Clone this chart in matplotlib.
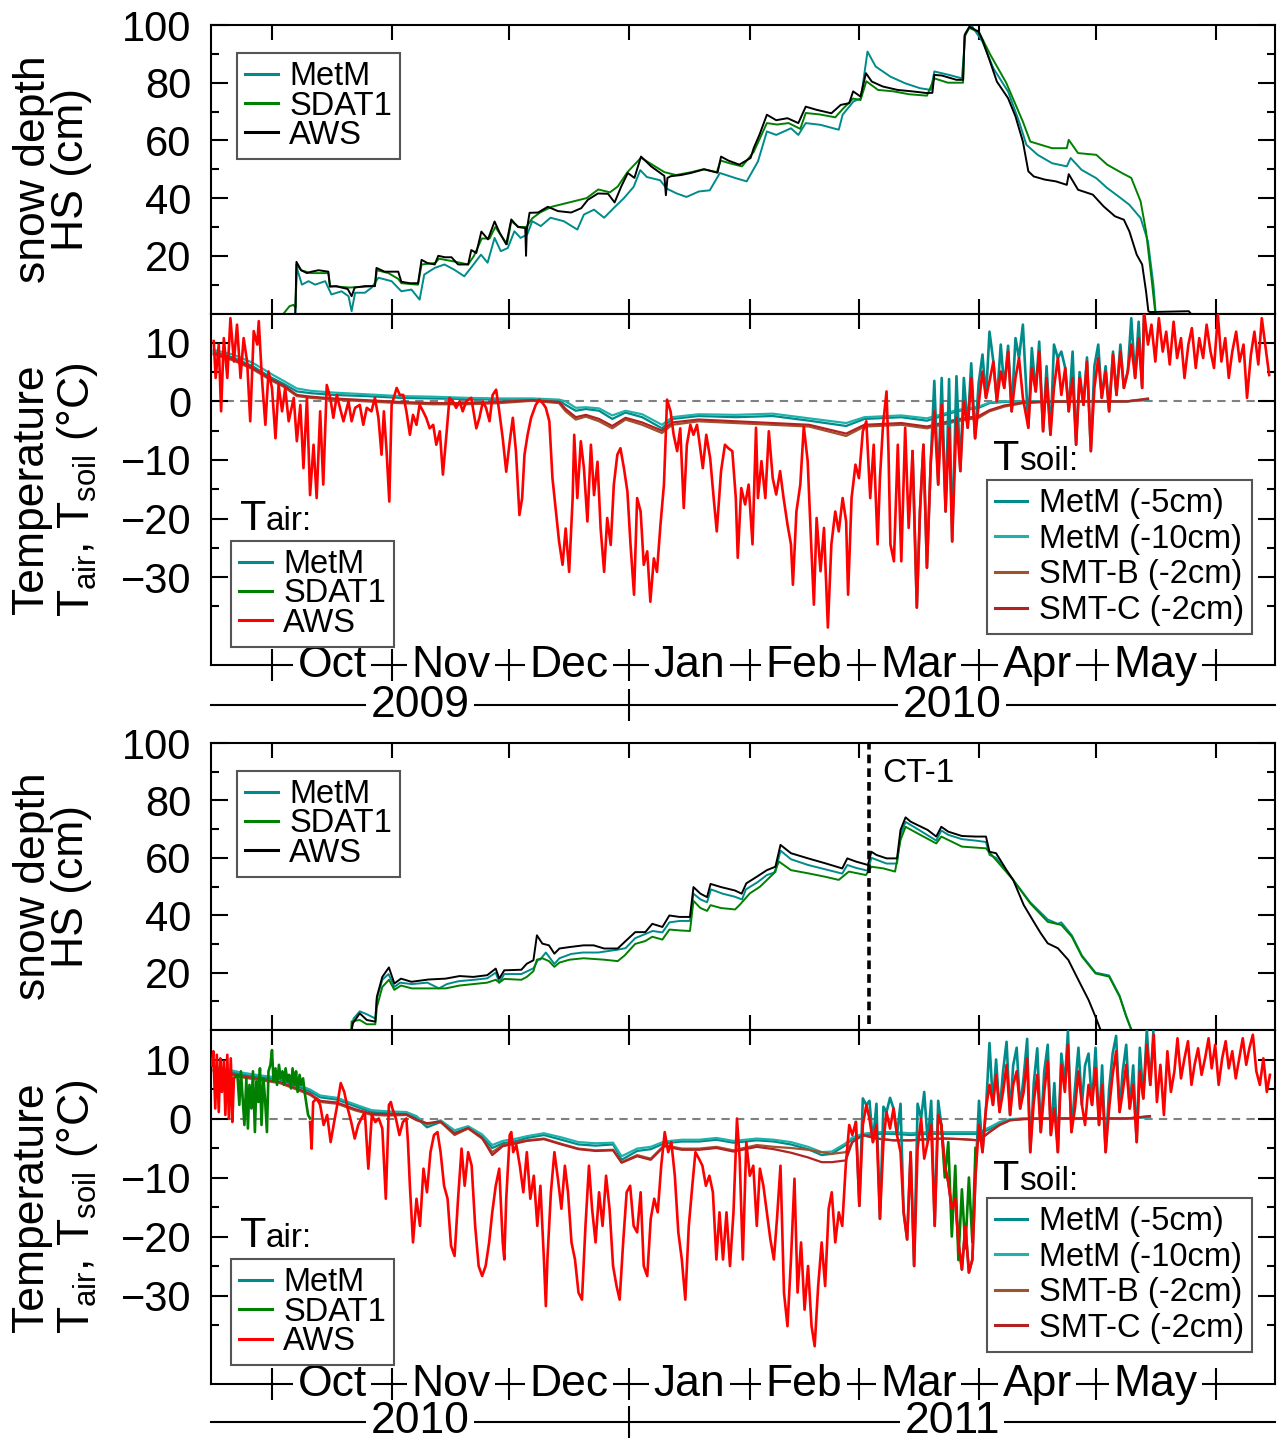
import matplotlib
matplotlib.use('Agg')
import matplotlib.pyplot as plt
from matplotlib import font_manager
from matplotlib.lines import Line2D

plt.rcParams['font.family'] = ['Liberation Sans', 'DejaVu Sans']
plt.rcParams['mathtext.fontset'] = 'custom'
plt.rcParams['mathtext.rm'] = 'Liberation Sans'
plt.rcParams['mathtext.it'] = 'Liberation Sans'
plt.rcParams['axes.linewidth'] = 1.5

# time axis: days counted from 1 October of the first year of the season
month_starts = [0, 31, 61, 92, 123, 151, 182, 212, 243]
month_names = ['Oct', 'Nov', 'Dec', 'Jan', 'Feb', 'Mar', 'Apr', 'May']
new_year = 92
x_range = (-15.7, 258.2)
years1 = ['2009', '2010']
years2 = ['2010', '2011']
ct1_day = 153.6

# ---------------- snow depth HS (cm), season 2009/10 ----------------
hs1_aws_day = [6.0, 6.3, 7.5, 9.0, 10.2, 12.0, 14.5, 14.9, 16.5, 17.9, 19.5, 20.5, 21.3, 24.0, 26.5, 26.9, 29.0, 32.5, 33.3, 35.5,
               37.6, 38.5, 40.0, 41.9, 42.8, 44.5, 46.2, 47.9, 50.5, 51.3, 52.6, 53.9, 55.6, 57.3, 58.6, 60.3, 61.6, 63.3, 65.2, 65.4,
               65.6, 66.3, 68.5, 71.0, 73.6, 77.0, 79.6, 81.3, 83.9, 86.5, 88.2, 89.9, 91.6, 93.3, 95.0, 97.6, 101.0, 101.4, 101.8, 102.7,
               105.3, 107.8, 111.3, 114.7, 115.6, 117.5, 120.3, 123.2, 124.0, 125.5, 127.4, 129.8, 132.7, 135.5, 137.4, 140.2, 144.0, 146.4, 148.6, 149.6,
               151.5, 152.9, 154.4, 157.2, 161.0, 164.8, 168.6, 170.0, 170.5, 172.4, 176.2, 177.9, 178.3, 179.5, 181.9, 182.9, 184.7, 186.6, 189.5, 191.4,
               193.3, 194.7, 196.1, 199.0, 201.8, 204.6, 205.1, 207.5, 211.3, 214.1, 217.0, 219.3, 220.7, 222.6, 224.0, 225.0, 225.6, 226.0, 236.0, 236.5]
hs1_aws = [0, 17.9, 15, 14, 14.5, 15, 14.5, 9.3, 9.5, 9, 8.5, 6, 9, 9.5, 9.5, 15.8, 14.5, 14.5, 11, 10.5,
           10.5, 18.6, 17.5, 17, 20, 19.5, 19.5, 17, 17, 22, 21, 28.4, 25.7, 31.9, 28, 24, 32.6, 30, 29.6, 20,
           29, 34.9, 35, 37, 35.5, 35, 36.5, 39.4, 41.6, 41.5, 38.5, 44, 48.7, 47, 54.4, 51, 47.7, 41, 47, 47.6,
           48, 48.7, 50, 48.8, 54.4, 53, 51.6, 53.9, 57.3, 62, 68.9, 67, 67.7, 66, 71.7, 70.6, 69.4, 72.3, 72.9, 77,
           75.2, 83.3, 80.4, 78.7, 77.5, 77, 76.4, 76.5, 82.7, 82.5, 81, 81, 96.5, 99.4, 97.7, 94.8, 87.9, 80.4, 74.6, 68.3,
           59.6, 49.3, 47.5, 46.4, 45.8, 44.6, 48.3, 42.9, 41.2, 37.1, 33.7, 32.5, 28.5, 20.4, 17, 7.7, 0.8, 0.5, 0.8, 0]

hs1_metm_day = [6.0, 6.4, 7.7, 9.4, 11.1, 13.7, 15.3, 17.9, 19.7, 20.5, 21.4, 23.9, 25.6, 27.4, 30.8, 33.3, 35.9, 38.0, 39.2, 41.9,
                44.4, 46.9, 49.5, 51.2, 53.8, 55.5, 57.3, 58.9, 60.7, 62.4, 64.0, 65.7, 67.0, 69.2, 71.7, 75.1, 78.6, 80.3, 82.9, 85.5,
                88.0, 90.6, 93.1, 94.8, 96.5, 99.9, 101.6, 104.2, 106.7, 109.9, 112.7, 115.3, 119.4, 122.2, 125.1, 127.4, 129.8, 133.6, 135.5, 137.4,
                141.2, 145.9, 146.9, 149.7, 151.6, 153.3, 155.4, 159.2, 163.0, 166.8, 169.6, 170.5, 174.3, 177.6, 178.5, 180.0, 182.9, 185.7, 189.5, 192.3,
                194.2, 197.1, 200.8, 204.6, 205.6, 208.4, 212.2, 215.0, 217.9, 220.7, 223.6, 225.5, 226.9, 227.5]
hs1_metm = [0, 15.8, 10, 11.2, 10, 11.2, 6.6, 7.7, 6, 0.8, 7.2, 7.2, 8.9, 12.4, 11.2, 7.7, 8.3, 4.8, 13.5, 15.8,
            17, 15.2, 12.9, 15.8, 20.4, 17.6, 26.2, 21.6, 22.7, 28.5, 26.2, 27.4, 32, 30.3, 33.2, 32, 29.1, 34.3, 36, 33.2,
            36.6, 40, 43.9, 49.7, 47.3, 46.2, 43.3, 41.6, 40.4, 42.3, 42.7, 48.7, 46.9, 45.8, 52.7, 63.1, 61.9, 64.2, 61.9, 66,
            65.4, 63.7, 68.9, 73.5, 74.6, 90.8, 85.6, 82.1, 79.8, 78.1, 77.5, 83.9, 82.7, 81.5, 97.1, 100, 94.2, 85, 76.9, 66.6,
            58.5, 55, 52.1, 51, 53.9, 49.8, 46.9, 43.5, 40.6, 37.7, 33.1, 25, 10, 0]

hs1_sdat_day = [3.0, 4.5, 5.5, 6.1, 6.3, 7.5, 10.0, 14.5, 15.0, 20.0, 26.5, 27.0, 30.0, 32.5, 33.3, 37.6, 38.5, 42.0, 43.0, 47.0,
                50.5, 52.0, 54.0, 56.0, 57.5, 59.0, 60.5, 61.6, 63.5, 65.5, 67.0, 69.0, 72.0, 75.0, 78.0, 81.0, 84.0, 87.0, 89.0, 91.5,
                95.0, 98.0, 101.0, 104.0, 108.0, 111.0, 114.5, 115.5, 118.0, 121.0, 124.0, 127.4, 130.0, 133.0, 136.0, 137.4, 141.0, 145.0, 147.0, 149.6,
                151.5, 153.0, 156.0, 160.0, 164.0, 168.6, 170.5, 174.0, 177.9, 178.3, 179.5, 182.0, 185.0, 189.0, 193.3, 195.2, 200.8, 204.6, 205.1, 207.5,
                212.2, 215.0, 218.8, 221.2, 223.6, 225.0, 226.4, 227.4]
hs1_sdat = [0, 2.5, 3, 2, 17, 15, 14, 14, 9.5, 9, 9.5, 15, 14, 12, 10.5, 10, 17, 17.5, 19, 18,
            17, 20, 26, 26, 30, 27, 24, 32, 30, 30, 33, 35, 37, 38, 39, 40, 43, 42, 44, 49,
            54, 51.5, 49, 48, 49, 50, 49, 53, 52, 51, 56, 66, 65.5, 66, 64, 69.5, 69, 68, 71, 74.5,
            74, 80.5, 77.5, 77, 76, 75.5, 81.5, 80, 80, 96, 99, 97.5, 89.5, 80, 66.5, 59.6, 57.3, 57.3, 60.2, 55.6,
            55, 51.6, 48.7, 47, 38.9, 28.5, 12.3, 0]

# ---------------- snow depth HS (cm), season 2010/11 ----------------
hs2_aws_day = [20.5, 20.8, 22.6, 24.4, 26.6, 27.0, 28.4, 30.1, 31.5, 33.2, 35.9, 40.3, 44.7, 48.3, 51.8, 55.4, 57.6, 58.5, 59.8, 64.2,
               65.6, 67.3, 68.2, 69.6, 71.3, 72.7, 74.0, 76.6, 80.2, 82.8, 85.5, 89.0, 90.8, 93.5, 96.1, 97.9, 100.5, 102.3, 104.9, 107.6,
               108.5, 110.3, 112.0, 112.9, 115.6, 119.2, 120.9, 122.1, 124.8, 127.4, 129.6, 130.9, 133.6, 138.0, 142.4, 146.8, 148.1, 150.3, 153.4, 154.3,
               155.6, 158.2, 160.9, 161.8, 163.1, 164.4, 166.2, 168.8, 171.0, 172.3, 174.1, 177.6, 181.1, 183.8, 184.7, 186.4, 189.1, 190.8, 193.5, 196.1,
               197.9, 199.7, 202.3, 205.0, 207.6, 210.2, 212.0, 213.3]
hs2_aws = [0, 2.3, 5.8, 3.5, 2.9, 11.6, 18.5, 21.8, 16.2, 17.9, 16.8, 17.6, 17.9, 18.8, 18.5, 19.1, 21.4, 17.9, 20.8, 21,
           23.1, 24.3, 33, 30.1, 29.5, 26.6, 28.4, 28.9, 29.5, 29.5, 28.4, 28.4, 30.7, 34.1, 34.1, 37, 35.9, 39.9, 39.4, 39.4,
           49.8, 47.5, 46.3, 50.9, 49.8, 48.6, 47.5, 51.1, 53.4, 55.7, 56.9, 64.5, 61.6, 59.8, 58.1, 56.3, 59.8, 58.7, 57.5, 62.1,
           61, 59.8, 59.8, 69.7, 74.1, 72.6, 71.4, 69.7, 67.4, 70.8, 69.1, 67.6, 67.4, 67.4, 62.1, 61.6, 55.7, 52.3, 43.6, 37.7,
           33.7, 30.2, 28.5, 24.4, 17.4, 10.5, 4.6, 0]

hs2_metm_day = [20.5, 21.0, 22.6, 24.4, 26.6, 27.0, 28.4, 30.0, 31.5, 33.0, 36.0, 40.0, 43.0, 45.0, 48.0, 52.0, 55.4, 57.6, 58.5, 59.8,
                64.2, 67.3, 68.5, 69.0, 70.5, 72.7, 74.0, 77.0, 80.0, 84.0, 89.0, 91.0, 93.5, 98.0, 100.5, 102.3, 105.0, 107.6, 108.5, 110.3,
                112.0, 113.0, 116.0, 119.0, 121.0, 122.0, 125.0, 127.4, 129.6, 130.9, 133.6, 138.0, 142.4, 146.8, 148.1, 150.3, 153.4, 154.3, 158.2, 160.9,
                161.8, 163.1, 166.2, 171.0, 172.3, 174.1, 177.6, 181.1, 183.8, 184.7, 186.4, 190.8, 195.2, 199.7, 202.3, 203.2, 205.9, 208.5, 212.0, 215.5,
                218.2, 219.9, 221.3]
hs2_metm = [0, 4, 6.5, 5.5, 4, 11, 17.5, 19.5, 15, 16.5, 16, 16.5, 14.5, 16, 17, 17.5, 18, 20, 16.5, 19.5,
            19.5, 21.5, 24.5, 24.5, 27, 23, 25, 26.5, 27, 27, 28, 28.5, 32, 34.5, 34, 37.5, 38, 38, 47.5, 45.5,
            44.5, 49, 47.5, 46.5, 45.5, 49, 51.5, 54, 55, 62.5, 59.5, 57.5, 56, 54.5, 57.5, 56.5, 55.5, 60, 58, 58,
            68, 72.5, 70, 66, 69.5, 68, 66.5, 66, 65.5, 61, 60, 52.3, 44.5, 38.5, 37, 37.5, 33, 26, 20, 19,
            12, 5, 0]

hs2_sdat_day = [20.4, 20.5, 22.6, 24.4, 26.6, 27.0, 28.4, 30.1, 31.5, 33.2, 36.0, 40.3, 44.7, 48.3, 51.8, 55.4, 57.6, 58.5, 59.8, 64.2,
                65.6, 67.3, 68.2, 69.6, 71.3, 72.7, 74.0, 76.6, 80.2, 85.5, 89.0, 90.8, 93.5, 96.1, 97.9, 100.5, 102.3, 104.9, 107.6, 108.5,
                110.3, 112.0, 112.9, 115.6, 119.2, 120.4, 123.0, 125.6, 129.2, 130.5, 133.6, 138.0, 142.4, 145.9, 148.5, 152.9, 154.3, 157.4, 160.4, 161.8,
                163.1, 166.2, 171.0, 172.3, 177.6, 183.8, 186.4, 190.8, 195.2, 199.7, 203.2, 205.9, 208.5, 212.0, 215.5, 218.2, 219.9, 221.2]
hs2_sdat = [0, 3, 3.5, 2, 2, 8, 15, 17.5, 14, 15.5, 14.5, 14.5, 14.5, 15.5, 16, 16.5, 17.5, 16.5, 17.8, 17.5,
            18.5, 20.5, 24.5, 25, 24, 22, 23.5, 24.5, 25, 24.5, 24, 26, 30, 31, 32.5, 31.5, 35, 34.7, 34.5, 45,
            42.5, 41.5, 43.5, 42.5, 42, 43.6, 47.6, 49.9, 54.6, 58.7, 55.7, 54.6, 53.4, 52.3, 55.2, 54, 56.9, 56.3, 55.2, 66.2,
            70.8, 68.5, 65, 67.4, 63.9, 63.3, 59.2, 52.3, 44.1, 37.7, 36.6, 32.5, 25.6, 19.7, 18.6, 11.6, 4.6, 0]

# ---------------- air temperature (deg C), season 2009/10: (day, value) ----------------
tair1_aws = [(-15.0, 10.3), (-14.5, 4.0), (-13.7, 9.7), (-13.1, -1.7), (-12.4, 10.8), (-11.5, 4.0), (-10.7, 14.2), (-9.8, 6.8),
             (-9.0, 13.1), (-8.1, 4.0), (-7.3, 10.8), (-6.4, 6.8), (-5.6, -3.4), (-4.7, 12.0), (-3.8, 9.7), (-3.4, 13.7),
             (-2.6, 4.0), (-1.7, -4.0), (-0.9, 5.1), (0.0, 2.3), (0.9, -6.3), (1.7, 2.8), (2.6, -1.7), (3.4, 2.3),
             (4.3, -3.4), (5.6, 0.6), (6.4, -6.8), (7.3, -0.6), (8.1, -11.4), (9.0, 0.6), (9.8, -16.0), (10.7, -7.4),
             (11.5, -16.5), (12.4, -1.7), (13.2, -14.2), (14.1, 2.8), (15.0, 0.6), (15.8, -2.8), (16.7, 1.1), (17.5, -1.1),
             (18.4, -3.4), (19.7, 0.0), (20.5, -3.4), (21.4, -1.1), (22.6, -0.6), (23.5, -4.0), (24.4, -1.1), (25.6, -1.7),
             (26.5, 0.6), (27.4, -2.8), (28.2, -9.1), (28.8, -1.7), (29.5, -8.5), (30.2, -17.1), (30.8, -0.6), (32.1, 2.3),
             (32.9, 1.1), (33.8, 1.1), (34.6, -1.7), (35.5, -5.7), (36.3, -2.3), (37.2, -4.0), (38.0, -0.6), (38.9, -1.7),
             (39.7, -2.8), (40.6, -4.6), (41.5, -4.0), (42.3, -7.4), (43.2, -5.1), (44.0, -12.5), (44.9, -5.7), (45.7, 0.6),
             (46.6, 0.0), (47.4, -1.1), (48.3, 0.0), (49.1, -1.7), (50.0, 0.0), (51.3, 0.6), (52.6, -4.6), (53.4, -2.8),
             (54.3, 0.0), (55.1, -1.1), (56.0, -3.4), (56.8, 1.1), (57.7, 2.0), (58.5, -1.7), (59.4, -6.3), (60.3, -12.0),
             (61.1, -7.4), (62.0, -2.8), (62.8, -8.5), (63.7, -19.4), (64.4, -16.5), (65.0, -9.1), (65.8, -5.7), (66.7, -2.8),
             (67.9, -0.6), (68.8, 0.3), (69.7, -0.3), (70.5, -1.1), (71.4, -3.4), (72.2, -13.1), (73.1, -18.8), (73.9, -23.9),
             (74.8, -27.9), (75.6, -21.7), (76.5, -29.1), (77.4, -16.5), (77.8, -5.7), (78.6, -16.5), (79.5, -6.8), (80.3, -11.4),
             (81.2, -20.5), (82.1, -7.4), (82.9, -16.0), (83.8, -10.3), (84.6, -21.7), (85.5, -29.1), (86.3, -19.9), (87.2, -24.5),
             (88.0, -14.2), (88.9, -9.1), (89.7, -8.0), (90.6, -11.4), (91.5, -15.4), (92.3, -24.5), (93.2, -33.0), (94.0, -16.5),
             (94.9, -18.8), (95.7, -27.9), (96.6, -25.6), (97.4, -34.2), (98.3, -26.8), (99.1, -29.1), (100.0, -21.1), (100.9, -14.2),
             (101.7, 0.3), (102.6, -1.7), (103.4, -5.7), (104.3, -8.5), (105.1, -4.6), (106.0, -18.2), (106.8, -7.4), (107.7, -4.0),
             (108.5, -5.7), (109.4, -4.0), (109.9, -6.3), (110.9, -11.4), (111.8, -5.7), (112.8, -9.7), (113.7, -16.5), (114.5, -22.2),
             (115.6, -11.9), (116.6, -7.4), (117.5, -8.0), (118.5, -8.5), (119.4, -16.5), (119.9, -26.7), (120.8, -14.8), (121.8, -17.6),
             (122.7, -14.2), (123.7, -24.4), (124.6, -4.5), (125.1, -16.5), (126.0, -10.2), (127.0, -16.5), (127.9, -5.1), (128.9, -13.1),
             (129.8, -15.9), (130.8, -11.9), (131.7, -16.5), (132.7, -21.0), (133.6, -24.4), (134.1, -31.3), (135.0, -18.8), (136.0, -14.2),
             (136.9, -4.3), (137.9, -10.2), (138.8, -24.4), (139.5, -34.7), (140.2, -19.9), (141.2, -29.0), (142.1, -21.6), (143.1, -38.6),
             (144.0, -24.4), (145.0, -18.8), (145.9, -22.2), (146.9, -16.5), (147.8, -20.5), (148.3, -33.0), (149.2, -16.5), (150.2, -10.8),
             (151.1, -13.1), (152.1, -5.1), (153.0, -3.4), (154.0, -16.5), (154.9, -7.4), (155.9, -24.4), (156.5, -13.1), (157.3, -4.0),
             (158.2, 1.7), (158.7, -8.5), (159.2, -24.4), (160.1, -27.3), (161.1, -7.4), (162.0, -27.3), (163.0, -4.5), (163.9, -21.6),
             (164.9, -8.5), (166.0, -35.2), (166.8, -18.8), (167.7, -7.4), (168.6, -28.4), (169.6, -10.2), (170.5, -1.7), (171.5, -14.2),
             (172.4, -0.6), (173.4, -18.8), (174.3, -4.5), (175.1, -23.9), (176.2, -2.8), (177.2, -11.9), (178.1, 0.0), (179.1, -4.5),
             (180.0, 4.0), (181.0, -6.3), (181.9, -0.6), (182.9, 5.1), (183.8, 0.6), (184.7, 3.4), (185.7, 6.8), (186.6, 0.0),
             (187.6, 5.1), (188.5, 2.3), (189.5, 8.5), (190.4, -1.7), (191.4, 4.0), (192.3, 7.4), (193.3, 0.6), (194.7, -4.5),
             (195.6, 5.7), (196.6, 1.7), (197.5, 8.5), (198.5, -5.1), (199.4, 4.0), (200.4, -5.7), (201.3, 2.3), (202.3, 7.4),
             (203.2, 1.1), (204.2, 5.7), (205.1, -1.7), (206.1, 4.0), (207.0, -7.4), (207.9, 4.0), (208.9, -0.6), (209.8, 6.8),
             (210.8, -8.5), (211.7, 2.3), (212.7, 7.4), (213.6, 0.6), (214.6, 5.1), (215.5, -1.7), (216.5, 8.0), (217.4, 1.1),
             (218.4, 8.5), (219.3, 2.3), (220.3, 5.1), (221.2, 9.7), (222.2, 4.0), (223.1, 10.8), (224.0, 2.3), (224.5, 15.3),
             (225.5, 9.7), (226.4, 13.1), (227.4, 6.8), (228.3, 14.2), (229.3, 8.5), (230.2, 11.9), (231.1, 6.3), (232.1, 13.6),
             (233.0, 7.4), (234.0, 10.8), (234.9, 4.0), (235.9, 9.7), (236.8, 12.5), (237.8, 5.7), (238.7, 10.8), (239.7, 7.4),
             (240.6, 13.1), (241.6, 8.5), (242.5, 5.7), (243.5, 14.8), (244.4, 6.8), (245.4, 10.8), (246.3, 4.0), (247.2, 8.5),
             (248.2, 11.9), (249.1, 6.8), (250.1, 9.7), (251.0, 0.6), (252.0, 8.0), (252.9, 11.9), (253.9, 6.3), (254.8, 14.2),
             (255.8, 9.1), (256.7, 4.5)]

# MetM air temperature where it rises above the AWS trace (spring)
tair1_metm = [(164.9, -8.5), (166.0, -35.2), (166.8, -18.8), (167.7, -7.4), (168.6, -28.4), (169.6, -10.2), (170.5, 3.5), (171.5, -14.2),
              (172.4, 4.0), (173.4, -18.8), (174.3, 3.8), (175.1, -23.9), (176.2, 4.3), (177.2, -11.9), (178.1, 4.0), (179.1, -4.5),
              (180.0, 6.5), (181.0, -6.3), (181.9, 3.0), (182.9, 8.0), (183.8, 0.6), (184.7, 11.9), (185.7, 6.8), (186.6, 0.0),
              (187.6, 9.7), (188.5, 2.3), (189.5, 9.5), (190.4, -1.7), (191.4, 10.8), (192.3, 7.4), (193.3, 13.1), (194.7, -4.5),
              (195.6, 9.1), (196.6, 1.7), (197.5, 10.2), (198.5, -5.1), (199.4, 6.0), (200.4, -5.7), (201.3, 9.7), (202.3, 7.4),
              (203.2, 8.5), (204.2, 5.7), (205.1, -1.7), (206.1, 8.5), (207.0, -7.4), (207.9, 5.0), (208.9, -0.6), (209.8, 7.5),
              (210.8, -8.5), (211.7, 6.0), (212.7, 9.7), (213.6, 0.6), (214.6, 6.0), (215.5, -1.7), (216.5, 8.5), (217.4, 1.1),
              (218.4, 9.7), (219.3, 2.3), (220.3, 5.1), (221.2, 14.2), (222.2, 4.0), (223.1, 13.6), (224.0, 2.3), (224.5, 15.3)]

# ---------------- air temperature (deg C), season 2010/11 ----------------
tair2_aws_early = [(-15.5, 9.0), (-15.1, 11.4), (-14.6, 1.7), (-14.2, 10.8), (-13.7, 1.1), (-13.3, 10.2), (-12.9, 4.5), (-12.4, 9.7),
                   (-12.0, 0.6), (-11.5, 10.8), (-11.1, 0.0), (-10.6, 10.2), (-10.2, -0.6), (-9.8, 6.8)]
tair2_aws = [(9.8, -0.6), (10.2, -5.1), (10.6, 2.8), (11.5, 3.4), (12.4, 2.3), (13.3, -1.1), (14.2, 0.6), (15.1, -4.0),
             (16.0, -0.6), (16.8, 2.3), (17.7, 6.0), (18.6, 4.5), (19.5, 1.7), (20.4, -0.6), (21.3, -3.4), (22.2, -1.1),
             (23.0, 0.0), (23.9, 1.1), (24.8, -8.5), (25.7, 0.6), (26.6, -0.6), (27.5, 0.0), (28.4, -1.7), (29.3, -13.6),
             (30.1, 2.3), (30.6, 2.8), (31.0, 1.7), (31.9, 0.0), (32.8, -2.8), (33.7, -0.6), (34.6, 0.0), (35.0, -4.0),
             (35.5, -11.4), (36.3, -21.0), (37.2, -13.6), (38.1, -18.2), (39.0, -8.5), (39.9, -12.5), (40.8, -5.7), (41.7, -2.8),
             (42.6, -2.3), (43.4, -5.7), (44.3, -11.4), (45.2, -13.6), (46.1, -21.6), (47.0, -23.3), (47.9, -13.6), (48.8, -5.1),
             (49.6, -11.4), (50.5, -5.7), (51.4, -8.0), (52.3, -18.2), (53.2, -25.0), (54.1, -26.7), (55.0, -25.0), (55.9, -21.0),
             (56.7, -15.9), (57.6, -11.4), (58.5, -8.5), (59.4, -21.0), (59.8, -23.9), (60.3, -13.6), (61.2, -2.8), (61.6, -2.3),
             (62.1, -5.7), (62.9, -4.5), (63.8, -8.0), (64.7, -12.5), (65.6, -5.7), (66.5, -13.6), (67.4, -9.7), (68.3, -18.2),
             (69.1, -11.4), (70.0, -23.9), (70.5, -31.8), (70.9, -23.9), (71.8, -12.5), (72.7, -5.7), (73.6, -10.2), (74.5, -15.3),
             (75.4, -8.0), (76.2, -12.5), (77.1, -21.0), (78.0, -23.9), (78.9, -29.5), (79.8, -30.7), (80.7, -18.2), (81.6, -8.0),
             (82.4, -15.3), (83.3, -21.0), (84.2, -12.5), (85.1, -18.2), (86.0, -9.7), (86.9, -15.3), (87.8, -25.0), (88.7, -28.4),
             (89.5, -30.7), (90.4, -21.0), (91.3, -12.5), (92.2, -11.4), (93.1, -18.2), (94.0, -19.3), (94.9, -12.5), (95.7, -25.0),
             (96.6, -26.7), (97.5, -17.0), (98.4, -13.6), (99.3, -15.9), (100.2, -8.0), (101.1, -2.3), (102.0, -5.7), (102.8, -4.0),
             (103.7, -9.7), (104.6, -19.3), (105.5, -23.9), (106.4, -30.7), (107.3, -18.2), (108.2, -11.4), (109.0, -5.7), (109.9, -6.8),
             (110.8, -8.0), (111.7, -11.4), (112.6, -9.7), (113.5, -12.5), (114.4, -23.9), (115.2, -15.9), (116.1, -23.9), (117.0, -15.9),
             (117.9, -25.0), (118.8, -15.9), (119.7, 0.0), (120.4, -6.8), (121.2, -23.9), (122.1, -4.0), (123.0, -9.7), (123.9, -8.0),
             (124.8, -18.2), (125.6, -8.5), (126.5, -11.4), (127.4, -15.9), (128.3, -20.5), (129.2, -23.9), (130.0, -17.0), (130.9, -8.0),
             (131.8, -29.5), (132.7, -35.2), (133.6, -23.9), (134.5, -10.2), (135.3, -29.5), (136.2, -21.0), (137.1, -32.4), (138.0, -25.0),
             (138.9, -35.2), (139.7, -38.6), (140.6, -28.4), (141.5, -21.0), (142.4, -28.4), (143.3, -15.3), (144.1, -12.5), (145.0, -21.0),
             (145.9, -15.9), (146.8, -18.2), (147.7, -8.0), (148.6, -1.1), (149.4, -2.8), (150.3, -0.6), (151.2, -14.8), (152.1, -1.1),
             (153.0, 2.3), (153.8, 0.0), (154.7, -4.0), (155.6, -1.1), (156.5, -17.0), (157.4, -4.0), (158.2, 1.1), (159.1, -1.7),
             (160.0, 1.7), (160.9, -2.8), (161.8, -5.7), (162.6, -15.9), (163.5, -20.5), (164.4, -5.7), (165.3, -25.0), (166.2, -5.1),
             (167.1, 0.0), (167.9, -6.8), (168.8, -4.0), (169.7, -1.1), (170.6, -18.2), (171.5, 0.6), (172.3, -1.1), (173.2, -8.0),
             (174.1, -10.8), (175.0, -15.3), (175.9, -13.6), (176.7, -21.0), (177.6, -25.6), (178.5, -18.2), (179.4, -26.1), (180.3, -23.9),
             (181.1, -9.7), (182.0, -1.1), (182.9, -5.7), (183.8, 1.7), (184.7, 5.7), (185.6, 2.3), (186.4, 7.4), (187.3, 1.1),
             (188.2, 4.5), (189.1, 9.1), (190.0, 0.6), (190.8, 5.7), (191.7, 8.0), (192.6, 1.7), (193.5, 4.5), (194.4, 10.2),
             (195.2, -5.7), (196.1, 2.8), (197.0, 7.4), (197.9, -2.3), (198.8, 4.5), (199.7, 9.7), (200.5, -2.8), (201.4, 1.7),
             (202.3, -5.7), (203.2, 9.1), (204.1, 4.5), (204.9, 12.5), (205.8, -2.3), (206.7, 1.7), (207.6, 8.0), (208.5, 2.3),
             (209.3, -1.1), (210.2, 5.7), (211.1, 2.3), (212.0, 8.5), (212.9, -1.1), (213.7, 5.7), (214.6, -5.7), (215.5, 1.7),
             (216.4, 7.4), (217.3, 11.4), (218.2, 1.1), (219.0, 4.5), (219.9, 9.1), (220.8, 1.7), (221.7, 5.7), (222.6, -4.0),
             (223.4, 8.0), (224.3, 3.4), (225.2, 12.5), (226.1, 5.7), (227.0, 14.2), (227.8, 2.8), (228.7, 9.1), (229.6, 0.6),
             (230.5, 11.4), (231.4, 4.5), (232.3, 8.0), (233.1, 13.6), (234.0, 6.8), (234.9, 10.2), (235.8, 13.1), (236.7, 5.7),
             (237.5, 9.1), (238.4, 11.9), (239.3, 7.4), (240.2, 10.2), (241.1, 13.6), (241.9, 8.5), (242.8, 12.5), (243.7, 5.7),
             (244.6, 10.2), (245.5, 13.1), (246.3, 8.5), (247.2, 11.4), (248.1, 6.8), (249.0, 10.2), (249.9, 13.6), (250.8, 9.1),
             (251.6, 11.9), (252.5, 14.2), (253.4, 8.0), (254.3, 5.7), (255.2, 10.2), (256.1, 4.5), (256.9, 7.4)]

tair2_metm = [(150.3, -0.6), (151.2, -14.8), (152.1, 3.4), (153.0, 2.3), (153.8, 3.0), (154.7, -4.0), (155.6, 2.5), (156.5, -17.0),
              (157.4, 2.0), (158.2, 1.1), (159.1, 3.5), (160.0, 1.7), (160.9, -2.8), (161.8, 2.5), (162.6, -15.9), (163.5, -20.5),
              (164.4, -5.7), (165.3, -25.0), (166.2, 2.5), (167.1, 0.0), (167.9, 4.5), (168.8, -4.0), (169.7, 3.0), (170.6, -18.2),
              (171.5, 3.0), (172.3, -1.1), (173.2, -8.0), (174.1, -10.8), (175.0, -15.3), (175.9, -13.6), (176.7, -21.0), (177.6, -25.6),
              (178.5, -18.2), (179.4, -26.1), (180.3, -23.9), (181.1, -9.7), (182.0, 3.0), (182.9, -5.7), (183.8, 1.7), (184.7, 12.8),
              (185.6, 2.3), (186.4, 10.0), (187.3, 1.1), (188.2, 8.0), (189.1, 13.0), (190.0, 0.6), (190.8, 9.0), (191.7, 12.0),
              (192.6, 1.7), (193.5, 7.0), (194.4, 13.5), (195.2, -5.7), (196.1, 6.0), (197.0, 11.9), (197.9, -2.3), (198.8, 8.0),
              (199.7, 12.5), (200.5, -2.8), (201.4, 6.0), (202.3, -5.7), (203.2, 11.0), (204.1, 6.0), (204.9, 14.8), (205.8, -2.3),
              (206.7, 5.0), (207.6, 12.0), (208.5, 2.3), (209.3, 9.0), (210.2, 11.0), (211.1, 2.3), (212.0, 12.0), (212.9, -1.1),
              (213.7, 9.0), (214.6, -5.7), (215.5, 5.0), (216.4, 11.0), (217.3, 14.0), (218.2, 1.1), (219.0, 8.0), (219.9, 12.5),
              (220.8, 1.7), (221.7, 9.0), (222.6, -4.0), (223.4, 12.0), (224.3, 3.4), (225.2, 15.0), (226.1, 5.7), (227.0, 16.0)]

tair2_sdat_gap = [(-9.8, 6.8), (-8.9, 7.4), (-8.4, 2.3), (-8.0, 8.0), (-7.1, -1.1), (-6.6, 6.8), (-6.2, -1.7), (-5.8, 5.7),
                  (-5.3, 1.7), (-4.9, 8.0), (-4.4, -2.3), (-4.0, 6.3), (-3.5, 2.8), (-3.1, 8.5), (-2.7, -1.1), (-2.2, 6.8),
                  (-1.8, 3.4), (-1.3, -2.3), (-0.9, 8.0), (-0.4, 9.1), (0.0, 11.6), (0.4, 6.3), (0.9, 8.5), (1.3, 5.7),
                  (1.8, 9.1), (2.2, 6.8), (2.7, 8.0), (3.1, 5.7), (3.5, 8.5), (4.0, 6.3), (4.4, 7.4), (4.9, 5.1),
                  (5.3, 8.5), (5.8, 5.7), (6.2, 8.0), (6.6, 4.5), (7.1, 7.4), (7.5, 5.7), (8.0, 6.8), (8.4, 4.5),
                  (8.9, 2.3), (9.3, 0.6), (9.8, 0.0)]
tair2_sdat_mar = [(172.3, -1.1), (173.2, -10), (174.1, -4), (175.0, -20), (175.9, -8), (176.7, -24), (177.6, -12), (178.5, -22),
                  (179.4, -10), (180.3, -21), (181.1, -5)]

# ---------------- soil temperature (deg C) ----------------
soil1_day = [-15, -10, -5, 0, 3, 6.4, 10, 15.8, 24.4, 32.9, 41.5, 50, 58.5, 67, 73.9, 75.6, 78.2, 80.8, 84.2, 87.6,
             91, 95.3, 100.4, 103, 109.8, 119.4, 128.9, 138.3, 147.8, 152.5, 162, 168.6, 176.2, 181.9, 184.7, 188.5, 193.3, 200, 210, 220,
             225.5]
soil1_metm5 = [8.5, 7.5, 6.0, 4.0, 3.0, 1.7, 1.4, 1.1, 0.9, 0.6, 0.5, 0.4, 0.3, 0.3, 0.1, -0.6, -1.6, -1.3, -1.6, -3.0,
               -1.9, -2.7, -4.6, -3.0, -2.5, -2.7, -2.5, -3.3, -4.2, -3.0, -2.7, -3.3, -1.7, -1.1, -0.3, -0.1, 0.0, 0.0, 0.0, 0.0,
               0.3]
soil1_metm10 = [8.8, 8.0, 6.6, 4.6, 3.5, 2.2, 1.8, 1.5, 1.2, 0.9, 0.8, 0.6, 0.5, 0.5, 0.3, 0.0, -1.1, -1.0, -1.2, -2.4,
                -1.6, -2.2, -4.0, -2.7, -2.2, -2.3, -2.1, -2.9, -3.7, -2.7, -2.4, -2.9, -1.5, -0.9, -0.2, 0.0, 0.0, 0.0, 0.0, 0.0,
                0.2]
soil1_smtb = [8.0, 7.0, 5.5, 3.5, 2.5, 0.9, 0.6, 0.3, 0.0, -0.3, -0.5, -0.5, -0.3, 0.1, -0.3, -1.7, -3.1, -2.6, -3.4, -4.6,
              -3.1, -4.0, -5.4, -4.0, -3.4, -3.7, -4.0, -4.3, -5.9, -4.3, -4.0, -4.6, -3.4, -2.8, -1.7, -0.9, -0.3, -0.1, 0.0, 0.0,
              0.5]
soil1_smtc = [8.2, 7.2, 5.7, 3.7, 2.7, 1.1, 0.8, 0.5, 0.2, -0.1, -0.3, -0.3, -0.1, 0.2, -0.1, -1.3, -2.7, -2.3, -3.0, -4.2,
              -2.8, -3.6, -5.0, -3.6, -3.1, -3.4, -3.7, -4.0, -5.5, -4.0, -3.7, -4.3, -3.1, -2.5, -1.5, -0.7, -0.2, 0.0, 0.0, 0.0,
              0.4]

soil2_day = [-15, -8, -3, 2, 6, 9.8, 12.4, 16.8, 21.3, 25.7, 30.1, 34.6, 37.2, 39.9, 43.4, 47, 50.5, 54.1, 56.7, 59.4,
             63, 65.6, 70, 74.5, 78.9, 83.3, 87.8, 90, 94, 97.5, 101, 105.5, 110, 114.4, 118.8, 124.8, 129.2, 133.6, 138, 141.5,
             144.1, 147.7, 149.4, 152.1, 155.6, 160, 164.4, 168.8, 173.2, 177.6, 182, 184.7, 187.3, 190, 193.5, 200, 210, 220, 226]
soil2_metm5 = [8.5, 7.5, 7.0, 6.6, 5.6, 4.6, 3.6, 3.2, 2.1, 1.1, 0.9, 0.9, 0.1, -1.5, -0.6, -2.4, -1.6, -3.1, -5.0, -4.2,
               -3.8, -3.3, -2.8, -3.6, -4.4, -4.6, -4.4, -7.0, -5.5, -5.2, -4.2, -3.9, -3.9, -3.6, -4.1, -3.7, -3.9, -4.4, -5.2, -6.2,
               -6.0, -4.5, -3.5, -2.9, -2.6, -2.6, -2.8, -2.6, -2.6, -2.6, -2.6, -1.8, -0.8, -0.2, 0.0, 0.0, 0.0, 0.0, 0.3]
soil2_metm10 = [8.8, 7.8, 7.3, 6.9, 5.9, 4.9, 3.9, 3.5, 2.4, 1.4, 1.2, 1.1, 0.4, -1.1, -0.3, -2.0, -1.3, -2.7, -4.5, -3.8,
                -3.4, -3.0, -2.5, -3.2, -4.0, -4.2, -4.1, -6.4, -5.1, -4.8, -3.9, -3.6, -3.6, -3.3, -3.8, -3.4, -3.6, -4.0, -4.8, -5.7,
                -5.6, -4.2, -3.2, -2.6, -2.3, -2.3, -2.5, -2.3, -2.3, -2.3, -2.3, -1.5, -0.6, -0.1, 0.0, 0.0, 0.0, 0.0, 0.2]
soil2_smtb = [8.0, 7.0, 6.5, 6.0, 5.0, 4.0, 2.8, 2.5, 1.4, 0.6, 0.5, 0.6, -0.3, -0.9, -0.6, -2.8, -1.7, -3.4, -5.7, -4.5,
              -4.0, -3.7, -3.4, -4.3, -5.1, -5.4, -5.3, -7.4, -6.2, -6.8, -4.5, -5.1, -5.1, -4.8, -5.4, -4.5, -4.8, -5.0, -5.3, -5.7,
              -6.0, -5.7, -4.0, -2.8, -3.4, -3.7, -3.7, -3.5, -3.4, -3.5, -3.7, -2.3, -1.1, -0.3, -0.1, 0.0, 0.0, 0.0, 0.4]
soil2_smtc = [8.2, 7.2, 6.7, 6.2, 5.2, 4.2, 3.0, 2.7, 1.6, 0.8, 0.7, 0.7, -0.2, -0.8, -0.5, -2.6, -1.6, -3.3, -6.2, -4.7,
              -4.2, -3.8, -3.5, -4.4, -5.2, -5.5, -5.4, -7.5, -6.4, -7.0, -4.7, -5.3, -5.3, -5.0, -5.6, -4.8, -5.2, -5.8, -6.6, -7.4,
              -7.4, -7.1, -4.0, -2.8, -3.4, -3.7, -3.7, -3.5, -3.4, -3.5, -3.7, -2.3, -1.1, -0.3, -0.1, 0.0, 0.0, 0.0, 0.4]

# colours
C_METM = '#008b8b'
C_SDAT = '#008000'
C_AWS_T = '#ff0000'
C_M10 = '#20b2aa'
C_SMTB = '#a0522d'
C_SMTC = '#b22222'
LW = 1.4
LW_AIR = 1.9

names = {f.name for f in font_manager.fontManager.ttflist}
if 'Liberation Sans Narrow' in names:
    axis_font = dict(family='Liberation Sans Narrow', fontsize=38)
else:
    axis_font = dict(family='Liberation Sans', fontsize=32)


def unzip(pairs):
    return [p[0] for p in pairs], [p[1] for p in pairs]


def common_style(ax):
    ax.set_xlim(*x_range)
    ax.set_xticks(month_starts)
    ax.tick_params(axis='x', which='major', direction='in', length=10.5, width=1.5, top=True, labelbottom=False)
    ax.tick_params(axis='y', which='both', direction='in', width=1.5, right=True, labelsize=30, pad=14)
    ax.tick_params(axis='y', which='major', length=12)
    ax.tick_params(axis='y', which='minor', length=6)


def legend(ax, handles, labels, anchor, spacing):
    leg = ax.legend(handles, labels, loc='upper left', bbox_to_anchor=anchor, borderaxespad=0, fontsize=23.5,
                    fancybox=False, framealpha=1, edgecolor='#555555', handlelength=1.0, handletextpad=0.35,
                    labelspacing=spacing, borderpad=0.25)
    leg.get_frame().set_linewidth(1.5)
    for h in leg.get_lines():
        h.set_linewidth(2.2)
    return leg


def ylabel(ax, line1, line2, x1, x2):
    ax.text(x1, 0.5, line1, transform=ax.transAxes, rotation=90, ha='center', va='center', fontsize=32)
    ax.text(x2, 0.5, line2, transform=ax.transAxes, rotation=90, ha='center', va='center', fontsize=32)


def hs_panel(ax, aws, metm, sdat):
    common_style(ax)
    ax.plot(metm[0], metm[1], color=C_METM, lw=LW)
    ax.plot(sdat[0], sdat[1], color=C_SDAT, lw=LW)
    ax.plot(aws[0], aws[1], color='black', lw=LW)
    ax.set_ylim(0, 100)
    ax.set_yticks([20, 40, 60, 80, 100])
    ax.set_yticks([10, 30, 50, 70, 90], minor=True)
    hnd = [Line2D([], [], color=c) for c in (C_METM, C_SDAT, 'black')]
    legend(ax, hnd, ['MetM', 'SDAT1', 'AWS'], (0.0244, 0.903), -0.05)
    ylabel(ax, 'snow depth', 'HS (cm)', -0.167, -0.131)


def label_T(ax, x, y, sub):
    t = ax.text(x, y, 'T', transform=ax.transAxes, fontsize=31, ha='left', va='baseline')
    ax.annotate(sub, xy=(1, 0), xycoords=t, xytext=(0, 1.5), textcoords='offset points',
                fontsize=24, ha='left', va='bottom')


def temp_panel(ax, aws_parts, metm_parts, sdat_parts, soil_day, soil, years, year_y, tair_y, tsoil_y):
    common_style(ax)
    ax.tick_params(axis='x', bottom=False)
    ax.set_ylim(-45, 15)
    ax.set_yticks([-30, -20, -10, 0, 10])
    ax.set_yticks([-35, -25, -15, -5, 5], minor=True)
    ax.axhline(0, color='#808080', lw=1.5, ls=(0, (4, 3)), zorder=1)
    for vals, col in zip(soil, (C_METM, C_M10, C_SMTB, C_SMTC)):
        ax.plot(soil_day, vals, color=col, lw=1.6, zorder=2)
    for part in metm_parts:
        ax.plot(*unzip(part), color=C_METM, lw=LW_AIR, zorder=3)
    for part in sdat_parts:
        ax.plot(*unzip(part), color=C_SDAT, lw=LW_AIR, zorder=3)
    for part in aws_parts:
        ax.plot(*unzip(part), color=C_AWS_T, lw=LW_AIR, zorder=4)

    tr = ax.get_xaxis_transform()
    # month axis with crossing ticks
    ax.plot(month_starts, [0] * len(month_starts), transform=tr, ls='none', marker='|', ms=23, mew=1.5,
            color='black', clip_on=False, zorder=6)
    for i, name in enumerate(month_names):
        ax.text((month_starts[i] + month_starts[i + 1]) / 2, 0, name, transform=tr, ha='center', va='center',
                bbox=dict(boxstyle='square,pad=0.1', fc='white', ec='none'), zorder=5, **axis_font)
    # year axis
    ax.plot(list(x_range), [year_y, year_y], transform=tr, color='black', lw=1.5, clip_on=False)
    ax.plot([new_year], [year_y], transform=tr, ls='none', marker='|', ms=23, mew=1.5, color='black', clip_on=False)
    ax.text((x_range[0] + new_year) / 2, year_y, years[0], transform=tr, ha='center', va='center',
            bbox=dict(boxstyle='square,pad=0.1', fc='white', ec='none'), zorder=5, **axis_font)
    ax.text((new_year + x_range[1]) / 2, year_y, years[1], transform=tr, ha='center', va='center',
            bbox=dict(boxstyle='square,pad=0.1', fc='white', ec='none'), zorder=5, **axis_font)

    air_h = [Line2D([], [], color=c) for c in (C_METM, C_SDAT, C_AWS_T)]
    leg1 = legend(ax, air_h, ['MetM', 'SDAT1', 'AWS'], (0.0188, 0.353), -0.05)
    ax.add_artist(leg1)
    soil_h = [Line2D([], [], color=c) for c in (C_METM, C_M10, C_SMTB, C_SMTC)]
    legend(ax, soil_h, ['MetM (-5cm)', 'MetM (-10cm)', 'SMT-B (-2cm)', 'SMT-C (-2cm)'], (0.729, 0.526), 0.14)
    label_T(ax, 0.027, tair_y, 'air:')
    label_T(ax, 0.735, tsoil_y, 'soil:')
    ylabel(ax, 'Temperature', r'T$_{\mathregular{air}}$, T$_{\mathregular{soil}}$ (°C)', -0.169, -0.125)


fig = plt.figure(figsize=(12.79, 14.42), dpi=100)
L, W = 0.16497, 0.83190
ax1 = fig.add_axes([L, 0.78259, W, 0.20007])
ax2 = fig.add_axes([L, 0.53883, W, 0.24376])
ax3 = fig.add_axes([L, 0.28571, W, 0.19903])
ax4 = fig.add_axes([L, 0.04022, W, 0.24549])

hs_panel(ax1, (hs1_aws_day, hs1_aws), (hs1_metm_day, hs1_metm), (hs1_sdat_day, hs1_sdat))
temp_panel(ax2, [tair1_aws], [tair1_metm], [], soil1_day,
           (soil1_metm5, soil1_metm10, soil1_smtb, soil1_smtc), years1, -0.114, 0.383, 0.555)

hs_panel(ax3, (hs2_aws_day, hs2_aws), (hs2_metm_day, hs2_metm), (hs2_sdat_day, hs2_sdat))
ax3.axvline(ct1_day, ymin=0.02, ymax=1, color='black', lw=2.6, ls=(0, (2.4, 1.4)))
ax3.text(ct1_day + 3.5, 0.895, 'CT-1', transform=ax3.get_xaxis_transform(), fontsize=24, ha='left', va='center')
temp_panel(ax4, [tair2_aws_early, tair2_aws], [tair2_metm], [tair2_sdat_gap, tair2_sdat_mar], soil2_day,
           (soil2_metm5, soil2_metm10, soil2_smtb, soil2_smtc), years2, -0.107, 0.387, 0.548)

fig.savefig('out.png', dpi=100)
